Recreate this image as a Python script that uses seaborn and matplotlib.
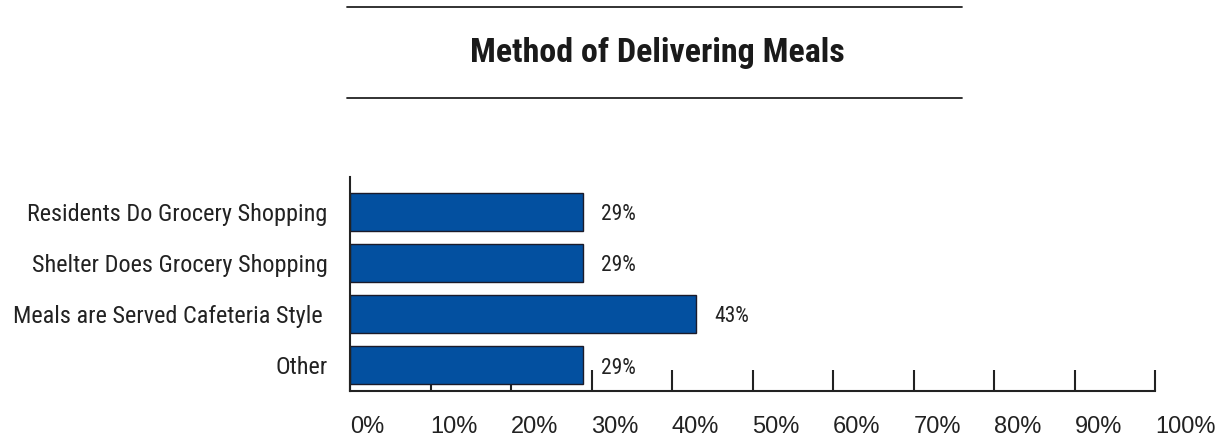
import matplotlib
matplotlib.use("Agg")
import matplotlib.pyplot as plt
from matplotlib import font_manager
from matplotlib.lines import Line2D
import seaborn as sns
import pandas as pd

categories = [
    "Residents Do Grocery Shopping",
    "Shelter Does Grocery Shopping",
    "Meals are Served Cafeteria Style ",
    "Other",
]
percentages = [29, 29, 43, 29]
x_ticks = [0, 10, 20, 30, 40, 50, 60, 70, 80, 90, 100]
x_tick_labels = [f"{t}%" for t in x_ticks]
title = "Method of Delivering Meals"

sns.set_theme(style="white")

available = {f.name for f in font_manager.fontManager.ttflist}


def pick(names):
    for n in names:
        if n in available:
            return n
    return "DejaVu Sans"


narrow = pick(["Liberation Sans Narrow", "Roboto Condensed", "Open Sans Condensed",
               "DejaVu Sans Condensed", "Roboto", "Liberation Sans"])
regular = pick(["Liberation Sans", "Arial", "Roboto", "DejaVu Sans"])
plt.rcParams["font.family"] = [narrow, "DejaVu Sans"]

df = pd.DataFrame({"category": categories, "pct": percentages})

W, H = 1222, 437
fig = plt.figure(figsize=(W / 100, H / 100), dpi=100)
ax = fig.add_axes([350 / W, 1 - 391 / H, (1155 - 350) / W, (391 - 177) / H])

sns.barplot(data=df, x="pct", y="category", orient="h", ax=ax,
            color="#0350A0", saturation=1, width=0.74,
            edgecolor="#1b1b2a", linewidth=1.0)

ax.set_axisbelow(True)
ax.set_xlim(0, 100)
ax.set_ylim(3.51, -0.68)
ax.set_xlabel("")
ax.set_ylabel("")

for s in ["top", "right"]:
    ax.spines[s].set_visible(False)
for s in ["left", "bottom"]:
    ax.spines[s].set_color("#222222")
    ax.spines[s].set_linewidth(1.5)

ax.set_xticks(x_ticks)
ax.set_xticklabels(x_tick_labels, ha="left", fontfamily=regular, fontsize=17,
                   color="#222222")
ax.tick_params(axis="x", direction="in", length=15, width=1.5, color="#222222",
               pad=18, bottom=True)
ax.tick_params(axis="y", left=False, pad=10, labelsize=17.5, labelcolor="#222222")

for i, v in enumerate(percentages):
    ax.text(v + 2.2, i + 0.06, f"{v}%", va="center", ha="left", fontsize=15.5,
            color="#222222")

# title with rules above and below
fig.text(657 / W, 1 - 53 / H, title, ha="center", va="center",
         fontsize=24.5, fontweight="bold", color="#1a1a1a")
for yy in (7, 98):
    fig.add_artist(Line2D([347 / W, 962 / W], [1 - yy / H, 1 - yy / H],
                          color="#222222", linewidth=1.3))

fig.savefig("out.png", dpi=100)
